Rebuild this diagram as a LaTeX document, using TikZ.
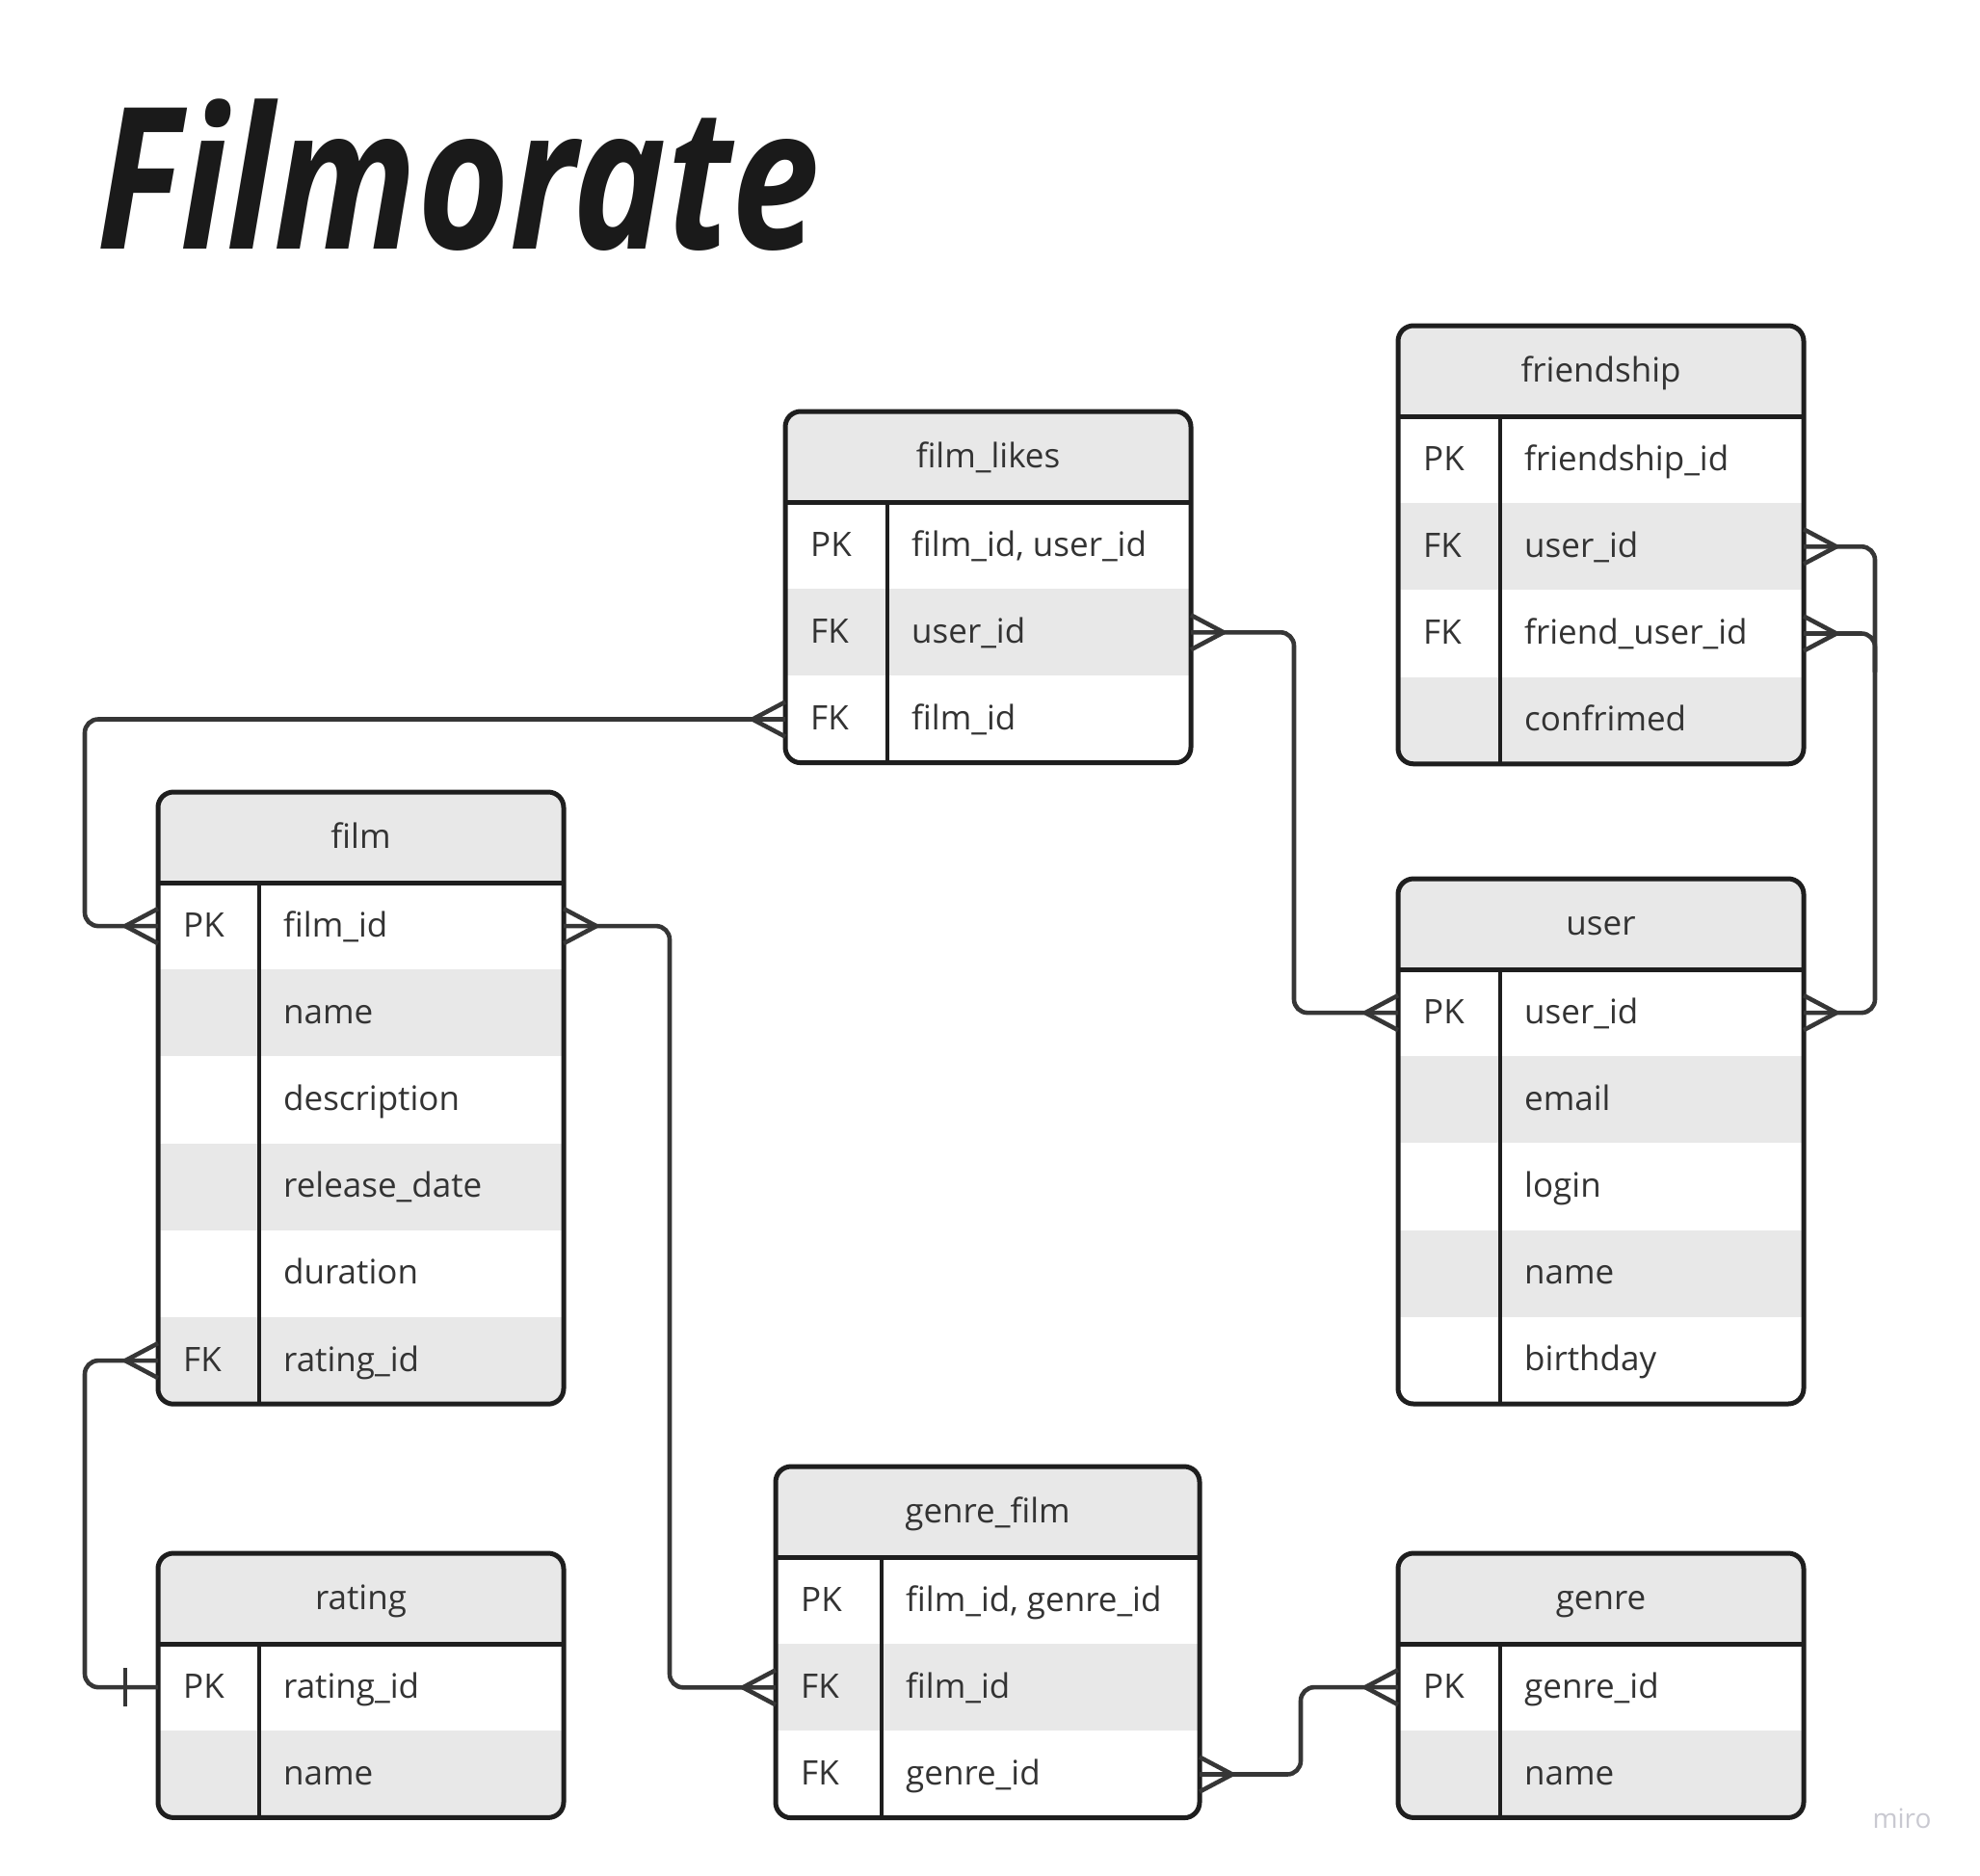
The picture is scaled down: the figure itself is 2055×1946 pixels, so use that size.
\documentclass[tikz,border=0pt]{standalone}
\usepackage{fontspec}
\setmainfont{Open Sans}
\usetikzlibrary{calc}
\definecolor{bordercol}{HTML}{1E1E1E}
\definecolor{conncol}{HTML}{363636}
\definecolor{hdrfill}{HTML}{E8E8E8}
\definecolor{rowfill}{HTML}{E8E8E8}
\definecolor{txtcol}{HTML}{333333}
\definecolor{mirocol}{HTML}{C9C9D1}
\definecolor{titlecol}{HTML}{1A1A1A}
\def\HH{94}
\def\RH{90.2}
\newcommand\ertable[7]{%
  \foreach \k/\f [count=\n] in {#7} {\xdef\ertrows{\n}}%
  \pgfmathsetmacro\erth{\HH+\ertrows*\RH}%
  \begin{scope}
    \clip[rounded corners=16pt] (#2,#3) rectangle ++(#4,\erth);
    \fill[white] (#2,#3) rectangle ++(#4,\erth);
    \fill[hdrfill] (#2,#3) rectangle ++(#4,\HH);
    \foreach \k/\f [count=\n] in {#7} {%
      \ifodd\n\relax\else
        \fill[rowfill] (#2,{#3+\HH+(\n-1)*\RH}) rectangle ++(#4,\RH);
      \fi
    }
  \end{scope}
  \node[celltext, anchor=base] (#1) at ({#2+#4/2},{#3+\HH/2+11}) {#6};
  \foreach \k/\f [count=\n] in {#7} {%
    \coordinate (#1-w\n) at (#2,{#3+\HH+(\n-0.5)*\RH});
    \coordinate (#1-e\n) at ({#2+#4},{#3+\HH+(\n-0.5)*\RH});
    \node[celltext, anchor=base west] (#1-k\n) at ({#2+26},{#3+\HH+(\n-0.5)*\RH+11}) {\k};
    \node[celltext, anchor=base west] (#1-f\n) at ({#2+#5+25},{#3+\HH+(\n-0.5)*\RH+11}) {\f};
  }
  \draw[sepline] (#2,{#3+\HH}) -- ++(#4,0);
  \draw[divline] ({#2+#5},{#3+\HH}) -- ({#2+#5},{#3+\erth});
  \draw[border] (#2,#3) rectangle ++(#4,\erth);
}
\newcommand\crowL[1]{\draw[foot] ($(#1)+(0,-18)$) -- ($(#1)+(-34,0)$) -- ($(#1)+(0,18)$);}
\newcommand\crowR[1]{\draw[foot] ($(#1)+(0,-18)$) -- ($(#1)+(34,0)$) -- ($(#1)+(0,18)$);}
\begin{document}
\begin{tikzpicture}[x=1pt,y=-1pt,
  celltext/.style={inner sep=0pt, text=txtcol, font=\fontsize{35}{42}\selectfont},
  border/.style={line width=5pt, draw=bordercol, rounded corners=16pt},
  sepline/.style={line width=5pt, draw=bordercol},
  divline/.style={line width=4.4pt, draw=bordercol},
  conn/.style={line width=4.6pt, draw=conncol, rounded corners=14pt},
  foot/.style={line width=4.6pt, draw=conncol, line join=round},
  titletext/.style={inner sep=0pt, text=titlecol, font=\fontsize{205}{205}\selectfont\bfseries\itshape},
  mirotext/.style={inner sep=0pt, text=mirocol, font=\fontsize{28}{30}\selectfont}]
\useasboundingbox[fill=white] (0,0) rectangle (2055,1946);

\node[titletext, anchor=base west] (title) at (100,258) {\scalebox{0.80}[1]{Filmorate}};

\coordinate (busL) at (88,0);
\coordinate (busA) at (1343,0);
\coordinate (busR) at (1946,0);
\coordinate (busF) at (695,0);
\coordinate (busG) at (1350,0);

\ertable{likes}{815}{427}{421}{106}{film\_likes}{PK/{film\_id, user\_id}, FK/user\_id, FK/film\_id}
\ertable{friend}{1451}{338}{421}{106}{friendship}{PK/friendship\_id, FK/user\_id, FK/friend\_user\_id, /confrimed}
\ertable{user}{1451}{912}{421}{106}{user}{PK/user\_id, /email, /login, /name, /birthday}
\ertable{film}{164}{822}{421}{105}{film}{PK/film\_id, /name, /description, /release\_date, /duration, FK/rating\_id}
\ertable{rating}{164}{1612}{421}{105}{rating}{PK/rating\_id, /name}
\ertable{gf}{805}{1522}{440}{110}{genre\_film}{PK/{film\_id, genre\_id}, FK/film\_id, FK/genre\_id}
\ertable{genre}{1451}{1612}{421}{106}{genre}{PK/genre\_id, /name}

\draw[conn] (likes-w3) -- (likes-w3 -| busL) -- (film-w1 -| busL) -- (film-w1);
\draw[conn] (likes-e2) -- (likes-e2 -| busA) -- (user-w1 -| busA) -- (user-w1);
\draw[conn] (friend-e2) -- (friend-e2 -| busR) -- (user-e1 -| busR) -- (user-e1);
\draw[conn] (friend-e3) -- (friend-e3 -| busR) -- ($(friend-e3 -| busR)+(0,40)$);
\draw[conn] (film-e1) -- (film-e1 -| busF) -- (gf-w2 -| busF) -- (gf-w2);
\draw[conn] (film-w6) -- (film-w6 -| busL) -- (rating-w1 -| busL) -- (rating-w1);
\draw[conn] (gf-e3) -- (gf-e3 -| busG) -- (genre-w1 -| busG) -- (genre-w1);

\crowL{likes-w3}
\crowL{film-w1}
\crowR{likes-e2}
\crowL{user-w1}
\crowR{friend-e2}
\crowR{friend-e3}
\crowR{user-e1}
\crowR{film-e1}
\crowL{gf-w2}
\crowL{film-w6}
\crowR{gf-e3}
\crowL{genre-w1}
\draw[foot] ($(rating-w1)+(-34,-20)$) -- ($(rating-w1)+(-34,20)$);

\node[mirotext, anchor=base] (miro) at (1974,1897) {miro};
\end{tikzpicture}
\end{document}
